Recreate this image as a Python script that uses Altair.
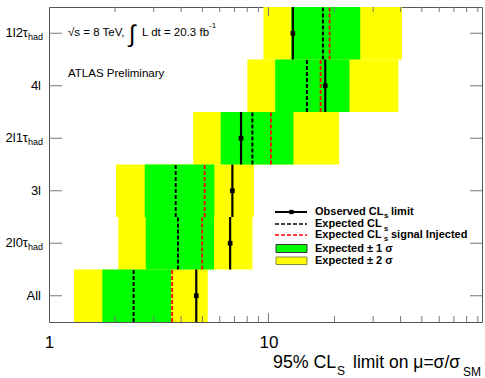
import altair as alt
import pandas as pd

# ---- data ----
cats = ["All", "2l0τhad", "3l", "2l1τhad", "4l", "1l2τhad"]
label_main = ["All", "2l0τ", "3l", "2l1τ", "4l", "1l2τ"]
label_sub = ["", "had", "", "had", "", "had"]
observed = [4.69, 6.69, 6.85, 7.50, 18.15, 12.92]
expected = [2.43, 3.87, 3.78, 8.45, 14.97, 17.71]
injected = [3.64, 4.99, 5.12, 10.26, 17.28, 18.99]
minus1 = [1.75, 2.76, 2.73, 6.06, 10.73, 12.70]
plus1 = [3.60, 5.65, 5.67, 13.00, 23.40, 26.20]
minus2 = [1.30, 2.07, 2.02, 4.54, 8.02, 9.49]
plus2 = [5.29, 8.45, 8.58, 21.00, 39.10, 40.60]
x_minor = [2, 3, 4, 5, 6, 7, 8, 9, 20, 30, 40, 50, 60, 70, 80, 90]
x_major = [10]
x_labels = [1, 10]

W, H = 433, 315
FONT = "Liberation Sans"

df = pd.DataFrame({
    "cat": cats, "main": label_main, "sub": label_sub,
    "obs": observed, "exp": expected, "inj": injected,
    "m1": minus1, "p1": plus1, "m2": minus2, "p2": plus2,
})
df["row"] = range(len(cats))
df["lo"] = df["row"]
df["hi"] = df["row"] + 1
df["mid"] = df["row"] + 0.5

xs = alt.Scale(type="log", domain=[1, 94], nice=False)
ys = alt.Scale(domain=[0, 6], nice=False, zero=False)

base = alt.Chart(df)

xaxis = alt.Axis(values=x_labels, labelFontSize=17, labelFont=FONT, ticks=False,
                 domain=False, grid=False, title=None, labelPadding=12,
                 labelFlush=False, labelColor="black", labelExpr="datum.value")

yellow = base.mark_rect(color="#FFFF00").encode(
    x=alt.X("m2:Q", scale=xs, axis=xaxis), x2="p2:Q",
    y=alt.Y("lo:Q", scale=ys, axis=None), y2="hi:Q")
green = base.mark_rect(color="#00FF00").encode(
    x=alt.X("m1:Q", scale=xs), x2="p1:Q",
    y=alt.Y("lo:Q", scale=ys), y2="hi:Q")
red = base.mark_rule(color="#FF0000", strokeWidth=1.8, strokeDash=[4, 2]).encode(
    x=alt.X("inj:Q", scale=xs), y=alt.Y("lo:Q", scale=ys), y2="hi:Q")
blk = base.mark_rule(color="black", strokeWidth=2, strokeDash=[4, 2]).encode(
    x=alt.X("exp:Q", scale=xs), y=alt.Y("lo:Q", scale=ys), y2="hi:Q")
obs = base.mark_rule(color="black", strokeWidth=2.2).encode(
    x=alt.X("obs:Q", scale=xs), y=alt.Y("lo:Q", scale=ys), y2="hi:Q")
pts = base.mark_point(shape="square", filled=True, color="black", size=22, opacity=1).encode(
    x=alt.X("obs:Q", scale=xs), y=alt.Y("mid:Q", scale=ys))

# y labels with subscripts
ylab = base.mark_text(align="right", baseline="middle", fontSize=13, font=FONT, color="black").encode(
    x=alt.value(-8), y=alt.Y("mid:Q", scale=ys), text="main:N").transform_filter("datum.sub == ''")
ylab2 = base.mark_text(align="right", baseline="middle", fontSize=13, font=FONT, color="black").encode(
    x=alt.value(-21), y=alt.Y("mid:Q", scale=ys), text="main:N").transform_filter("datum.sub != ''")
ysub = base.mark_text(align="left", baseline="middle", fontSize=9, font=FONT, color="black", dy=4).encode(
    x=alt.value(-21), y=alt.Y("mid:Q", scale=ys), text="sub:N").transform_filter("datum.sub != ''")

# inner ticks
tk_df = pd.DataFrame({"v": x_minor})
tkM_df = pd.DataFrame({"v": x_major})
tcol = "#777777"
bt = alt.Chart(tk_df).mark_rule(color=tcol).encode(
    x=alt.X("v:Q", scale=xs), y=alt.value(H), y2=alt.value(H - 6))
tt = alt.Chart(tk_df).mark_rule(color=tcol).encode(
    x=alt.X("v:Q", scale=xs), y=alt.value(0), y2=alt.value(5))
btM = alt.Chart(tkM_df).mark_rule(color=tcol).encode(
    x=alt.X("v:Q", scale=xs), y=alt.value(H), y2=alt.value(H - 9))
ttM = alt.Chart(tkM_df).mark_rule(color=tcol).encode(
    x=alt.X("v:Q", scale=xs), y=alt.value(0), y2=alt.value(9))
lt = base.mark_rule(color=tcol).encode(
    x=alt.value(0), x2=alt.value(13), y=alt.Y("mid:Q", scale=ys))
rt = base.mark_rule(color=tcol).encode(
    x=alt.value(W), x2=alt.value(W - 12), y=alt.Y("mid:Q", scale=ys))


def txt(s, x, y, size=11, weight="normal", align="left", baseline="middle"):
    return alt.Chart(pd.DataFrame({"t": [s]})).mark_text(
        align=align, baseline=baseline, fontSize=size, font=FONT,
        fontWeight=weight, color="black").encode(
        x=alt.value(x), y=alt.value(y), text="t:N")


# axis title
title = [
    txt("95% CL", 224, 361, 17.8, baseline="alphabetic"),
    txt("S", 288, 368, 12, baseline="alphabetic"),
    txt("limit on μ=σ/σ", 304, 361, 17.5, baseline="alphabetic"),
    txt("SM", 414, 369, 12, baseline="alphabetic"),
]

# top-left annotations
ann = [
    txt("√s = 8 TeV,", 19, 26, 11.5),
    txt("∫", 80, 28, 24),
    txt("L dt = 20.3 fb", 93, 26, 11.5),
    txt("-1", 160, 19, 8),
    txt("ATLAS Preliminary", 19, 67, 11.5),
]

# legend
LX0, LX1, TX = 226, 258, 266
leg = [
    alt.Chart(pd.DataFrame({"a": [0]})).mark_rule(color="black", strokeWidth=2).encode(
        x=alt.value(LX0), x2=alt.value(LX1), y=alt.value(205)),
    alt.Chart(pd.DataFrame({"a": [0]})).mark_point(shape="square", filled=True, color="black", size=18, opacity=1).encode(
        x=alt.value(242.5), y=alt.value(205)),
    alt.Chart(pd.DataFrame({"a": [0]})).mark_rule(color="black", strokeWidth=1.5, strokeDash=[4, 2]).encode(
        x=alt.value(LX0), x2=alt.value(LX1), y=alt.value(217)),
    alt.Chart(pd.DataFrame({"a": [0]})).mark_rule(color="#FF0000", strokeWidth=1.5, strokeDash=[4, 2]).encode(
        x=alt.value(LX0), x2=alt.value(LX1), y=alt.value(228)),
    alt.Chart(pd.DataFrame({"a": [0]})).mark_rect(color="#00FF00", stroke="#333333", strokeWidth=1).encode(
        x=alt.value(LX0 + 1), x2=alt.value(LX1), y=alt.value(237.5), y2=alt.value(245.5)),
    alt.Chart(pd.DataFrame({"a": [0]})).mark_rect(color="#FFFF00", stroke="#888844", strokeWidth=1).encode(
        x=alt.value(LX0 + 1), x2=alt.value(LX1), y=alt.value(250), y2=alt.value(257.5)),
    txt("Observed CL", TX, 205, 11, "bold"),
    txt("s", 335, 209, 8, "bold"),
    txt("limit", 342, 205, 11, "bold"),
    txt("Expected CL", TX, 216.5, 11, "bold"),
    txt("s", 335, 222, 7.5, "bold"),
    txt("Expected CL", TX, 228, 11, "bold"),
    txt("signal Injected", 342, 228, 11, "bold"),
    txt("s", 335, 231.5, 7.5, "bold"),
    txt("Expected ± 1 σ", TX, 242, 11, "bold"),
    txt("Expected ± 2 σ", TX, 253.5, 11, "bold"),
]

chart = alt.layer(
    yellow, green, red, blk, obs, pts,
    bt, tt, btM, ttM, lt, rt,
    ylab, ylab2, ysub, *title, *ann, *leg
).properties(
    width=W, height=H,
    autosize=alt.AutoSizeParams(type="none"),
    padding={"left": 49, "top": 7, "right": 3, "bottom": 56},
    background="white",
).configure_view(stroke="#555555", strokeWidth=1)

chart.save("out.html", embed_options={"renderer": "svg", "actions": False})
